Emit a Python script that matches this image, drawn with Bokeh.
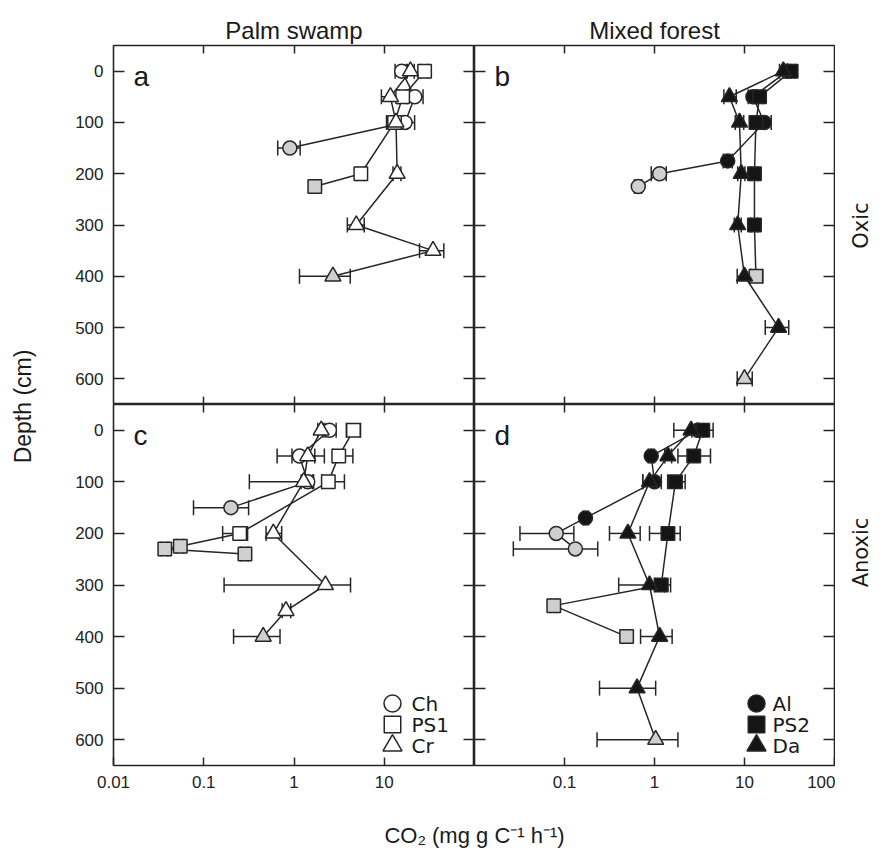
import math

from bokeh.embed import file_html
from bokeh.layouts import column, row
from bokeh.models import (ColumnDataSource, FixedTicker, Label, LinearAxis, LinearScale,
                          LogAxis, PrintfTickFormatter, Range1d, TeeHead, Whisker)
from bokeh.plotting import figure
from bokeh.resources import INLINE

# ---------------------------------------------------------------------------
# CO2 production (mg g C-1 h-1) by depth (cm); *_lo / *_hi are the error limits,
# *_shaded marks the samples drawn with a grey fill.
# ---------------------------------------------------------------------------

# (a) Palm swamp, oxic
a_ch_depth = [0, 50, 100, 150]
a_ch_co2 = [15.6, 21.8, 17.0, 0.9]
a_ch_lo = [13.2, 18.0, 14.0, 0.66]
a_ch_hi = [18.0, 26.9, 21.7, 1.17]
a_ch_shaded = [0, 0, 0, 1]

a_ps1_depth = [0, 50, 100, 200, 225]
a_ps1_co2 = [28.0, 16.0, 13.0, 5.5, 1.7]
a_ps1_lo = [25.5, 14.5, 11.8, 5.0, 1.55]
a_ps1_hi = [30.5, 17.5, 14.2, 6.0, 1.85]
a_ps1_shaded = [0, 0, 0, 0, 1]

a_cr_depth = [0, 50, 100, 200, 300, 350, 400]
a_cr_co2 = [19.5, 11.7, 13.5, 13.9, 4.9, 34.7, 2.7]
a_cr_lo = [17.5, 9.3, 10.6, 12.5, 3.9, 24.6, 1.15]
a_cr_hi = [21.5, 14.0, 16.0, 15.3, 6.0, 45.7, 4.2]
a_cr_shaded = [0, 0, 0, 0, 0, 0, 1]

# (b) Mixed forest, oxic
b_al_depth = [0, 50, 100, 175, 200, 225]
b_al_co2 = [30.0, 12.4, 16.6, 6.5, 1.14, 0.66]
b_al_lo = [27.0, 11.0, 14.5, 5.8, 0.92, 0.60]
b_al_hi = [33.0, 14.0, 19.8, 7.3, 1.35, 0.72]
b_al_shaded = [0, 0, 0, 0, 1, 1]

b_ps2_depth = [0, 50, 100, 200, 300, 400]
b_ps2_co2 = [33.0, 14.7, 13.4, 12.9, 12.9, 13.4]
b_ps2_lo = [30.0, 13.5, 12.0, 11.8, 11.8, 11.5]
b_ps2_hi = [36.0, 16.0, 15.0, 14.0, 14.0, 15.9]
b_ps2_shaded = [0, 0, 0, 0, 0, 1]

b_da_depth = [0, 50, 100, 200, 300, 400, 500, 600]
b_da_co2 = [27.0, 6.8, 8.8, 9.2, 8.4, 10.0, 23.9, 10.0]
b_da_lo = [24.5, 5.9, 7.9, 8.4, 7.7, 8.3, 17.0, 8.3]
b_da_hi = [30.0, 8.1, 9.8, 10.1, 9.2, 11.8, 31.0, 12.2]
b_da_shaded = [0, 0, 0, 0, 0, 0, 0, 1]

# (c) Palm swamp, anoxic
c_ch_depth = [0, 50, 100, 150]
c_ch_co2 = [2.47, 1.15, 1.42, 0.20]
c_ch_lo = [2.10, 0.65, 1.20, 0.077]
c_ch_hi = [2.93, 2.17, 1.65, 0.314]
c_ch_shaded = [0, 0, 0, 1]

c_ps1_depth = [0, 50, 100, 200, 225, 230, 240]
c_ps1_co2 = [4.56, 3.13, 2.40, 0.25, 0.055, 0.037, 0.286]
c_ps1_lo = [3.80, 2.69, 2.03, 0.162, 0.050, 0.034, 0.26]
c_ps1_hi = [5.46, 4.49, 3.62, 0.306, 0.060, 0.040, 0.31]
c_ps1_shaded = [0, 0, 0, 0, 1, 1, 1]

c_cr_depth = [0, 50, 100, 200, 300, 350, 400]
c_cr_co2 = [2.00, 1.42, 1.28, 0.59, 2.23, 0.815, 0.456]
c_cr_lo = [1.83, 0.95, 0.32, 0.49, 0.168, 0.74, 0.214]
c_cr_hi = [2.20, 1.70, 1.60, 0.73, 4.23, 0.92, 0.70]
c_cr_shaded = [0, 0, 0, 0, 0, 0, 1]

# (d) Mixed forest, anoxic
d_al_depth = [0, 50, 100, 170, 200, 230]
d_al_co2 = [3.03, 0.92, 1.00, 0.171, 0.081, 0.132]
d_al_lo = [2.60, 0.85, 0.74, 0.160, 0.032, 0.027]
d_al_hi = [3.50, 1.00, 1.19, 0.185, 0.127, 0.234]
d_al_shaded = [0, 0, 0, 0, 1, 1]

d_ps2_depth = [0, 50, 100, 200, 300, 340, 400]
d_ps2_co2 = [3.44, 2.73, 1.71, 1.41, 1.19, 0.076, 0.49]
d_ps2_lo = [3.00, 1.82, 1.40, 0.88, 1.00, 0.070, 0.45]
d_ps2_hi = [4.48, 4.19, 2.19, 1.93, 1.51, 0.082, 0.53]
d_ps2_shaded = [0, 0, 0, 0, 0, 1, 1]

d_da_depth = [0, 50, 100, 200, 300, 400, 500, 600]
d_da_co2 = [2.55, 1.41, 0.88, 0.506, 0.88, 1.14, 0.64, 1.03]
d_da_lo = [1.64, 1.30, 0.74, 0.316, 0.40, 0.70, 0.245, 0.23]
d_da_hi = [3.00, 1.55, 1.00, 0.693, 1.30, 1.57, 1.03, 1.82]
d_da_shaded = [0, 0, 0, 0, 0, 0, 0, 1]

x_tick_values = [0.01, 0.1, 1, 10, 100]
depth_tick_values = [0, 100, 200, 300, 400, 500, 600]
site_titles = ["Palm swamp", "Mixed forest"]
condition_titles = ["Oxic", "Anoxic"]
panel_letters = ["a", "b", "c", "d"]
ps_labels = ["Ch", "PS1", "Cr"]
mf_labels = ["Al", "PS2", "Da"]

# ---------------------------------------------------------------------------
# styling and layout
# ---------------------------------------------------------------------------
INK = "#262626"
OPEN = "#ffffff"
SHADE = "#cfcfcf"
SOLID = "#151515"
ARIAL = "Liberation Sans"
VERD = "DejaVu Sans"

STRIP_W = 45      # left strip (depth title)
RSTRIP_W = 49     # right strip (row titles)
TSTRIP_H = 44     # top strip (column titles)
BORDER_L, BORDER_B = 68, 36
FRAME_W = [361, 360]
FRAME_H = [359, 361]
TOTAL_H = 861
MARKER_SIZE = {"circle": 14, "square": 13.5, "triangle": 16}


def make_panel(col, rw):
    fw, fh = FRAME_W[col], FRAME_H[rw]
    bl = BORDER_L if col == 0 else 0
    br = 1 if col == 1 else 0
    bt = 1 if rw == 0 else 0
    bb = BORDER_B if rw == 1 else 0
    p = figure(width=fw + bl + br, height=fh + bt + bb,
               x_axis_type="log", x_range=Range1d(0.01, 100), y_range=Range1d(650, -50),
               output_backend="svg", toolbar_location=None,
               min_border_left=bl, min_border_right=br,
               min_border_top=bt, min_border_bottom=bb,
               outline_line_color=INK, outline_line_width=1.6,
               background_fill_color="white", border_fill_color="white")
    p.grid.visible = False

    bottom_axis = p.below[0]
    left_axis = p.left[0]
    top_axis = LogAxis()
    right_axis = LinearAxis()
    p.add_layout(top_axis, "above")
    p.add_layout(right_axis, "right")

    x_label_ticks = x_tick_values[:-1] if col == 0 else x_tick_values[1:]
    bottom_axis.ticker = FixedTicker(ticks=x_label_ticks if rw == 1 else x_tick_values[1:-1])
    top_axis.ticker = FixedTicker(ticks=x_tick_values[1:-1])
    for ax in (bottom_axis, top_axis):
        ax.formatter = PrintfTickFormatter(format="%g")
    left_axis.ticker = FixedTicker(ticks=depth_tick_values)
    right_axis.ticker = FixedTicker(ticks=depth_tick_values)

    for ax in (bottom_axis, top_axis, left_axis, right_axis):
        ax.axis_line_color = None
        ax.major_tick_out = 0
        ax.minor_tick_line_color = None
        ax.major_tick_line_color = INK
        ax.major_tick_line_width = 1.5
        ax.major_label_text_font = ARIAL
        # inner sides carry ticks only
        ax.major_label_text_color = None
        ax.major_label_text_font_size = "0px"
        ax.major_label_standoff = 0
    for ax in (bottom_axis, top_axis):
        ax.major_tick_in = 8
    for ax in (left_axis, right_axis):
        ax.major_tick_in = 11

    if col == 0:
        left_axis.major_label_text_font_size = "17px"
        left_axis.major_label_text_color = "#222222"
        left_axis.major_label_standoff = 10
    if rw == 1:
        bottom_axis.major_label_text_font_size = "17px"
        bottom_axis.major_label_text_color = "#222222"
        bottom_axis.major_label_standoff = 10

    # panel letter
    p.add_layout(Label(x=20, y=fh - 31, x_units="screen", y_units="screen",
                       text=panel_letters[rw * 2 + col], text_font=ARIAL,
                       text_font_size="28px", text_color="#1a1a1a",
                       text_baseline="middle", text_align="left"))
    return p


def draw_series(p, series):
    # error bars underneath, then connecting lines, then symbols on top
    for depth, co2, lo, hi, shaded, marker, fill in series:
        src = ColumnDataSource(dict(depth=depth, lo=lo, hi=hi))
        p.add_layout(Whisker(source=src, base="depth", lower="lo", upper="hi",
                             dimension="width", line_color=INK, line_width=1.5,
                             level="underlay",
                             lower_head=TeeHead(size=15, line_color=INK, line_width=1.5),
                             upper_head=TeeHead(size=15, line_color=INK, line_width=1.5)))
    for depth, co2, lo, hi, shaded, marker, fill in series:
        p.line(co2, depth, line_color=INK, line_width=1.5)
    for depth, co2, lo, hi, shaded, marker, fill in series:
        fills = [SHADE if s else fill for s in shaded]
        p.scatter(co2, depth, marker=marker, size=MARKER_SIZE[marker],
                  fill_color=fills, line_color=INK, line_width=1.5)


def draw_key(p, labels, fill, fw, fh, marker_x):
    # key placed in the pixel space of the frame
    p.extra_x_ranges = {"px": Range1d(0, fw)}
    p.extra_y_ranges = {"px": Range1d(0, fh)}
    p.extra_x_scales = {"px": LinearScale()}
    p.extra_y_scales = {"px": LinearScale()}
    rows_y = [62, 41, 20]
    for marker, lab, yy in zip(["circle", "square", "triangle"], labels, rows_y):
        size = {"circle": 17, "square": 16.5, "triangle": 19}[marker]
        p.scatter([marker_x], [yy], marker=marker, size=size, fill_color=fill,
                  line_color=INK, line_width=1.5, x_range_name="px", y_range_name="px")
        p.add_layout(Label(x=298, y=yy, x_units="screen", y_units="screen", text=lab,
                           text_font=VERD, text_font_size="20px", text_color="#1a1a1a",
                           text_baseline="middle", text_align="left"))


pa = make_panel(0, 0)
pb = make_panel(1, 0)
pc = make_panel(0, 1)
pd_ = make_panel(1, 1)

draw_series(pa, [
    (a_ch_depth, a_ch_co2, a_ch_lo, a_ch_hi, a_ch_shaded, "circle", OPEN),
    (a_ps1_depth, a_ps1_co2, a_ps1_lo, a_ps1_hi, a_ps1_shaded, "square", OPEN),
    (a_cr_depth, a_cr_co2, a_cr_lo, a_cr_hi, a_cr_shaded, "triangle", OPEN),
])
draw_series(pb, [
    (b_al_depth, b_al_co2, b_al_lo, b_al_hi, b_al_shaded, "circle", SOLID),
    (b_ps2_depth, b_ps2_co2, b_ps2_lo, b_ps2_hi, b_ps2_shaded, "square", SOLID),
    (b_da_depth, b_da_co2, b_da_lo, b_da_hi, b_da_shaded, "triangle", SOLID),
])
draw_series(pc, [
    (c_ch_depth, c_ch_co2, c_ch_lo, c_ch_hi, c_ch_shaded, "circle", OPEN),
    (c_ps1_depth, c_ps1_co2, c_ps1_lo, c_ps1_hi, c_ps1_shaded, "square", OPEN),
    (c_cr_depth, c_cr_co2, c_cr_lo, c_cr_hi, c_cr_shaded, "triangle", OPEN),
])
draw_series(pd_, [
    (d_al_depth, d_al_co2, d_al_lo, d_al_hi, d_al_shaded, "circle", SOLID),
    (d_ps2_depth, d_ps2_co2, d_ps2_lo, d_ps2_hi, d_ps2_shaded, "square", SOLID),
    (d_da_depth, d_da_co2, d_da_lo, d_da_hi, d_da_shaded, "triangle", SOLID),
])

draw_key(pc, ps_labels, OPEN, FRAME_W[0], FRAME_H[1], 279)
draw_key(pd_, mf_labels, SOLID, FRAME_W[1], FRAME_H[1], 282)


def blank_strip(w, h):
    s = figure(width=w, height=h, x_range=Range1d(0, 1), y_range=Range1d(0, 1),
               output_backend="svg", toolbar_location=None, min_border=0,
               outline_line_color=None, x_axis_type=None, y_axis_type=None,
               background_fill_color="white", border_fill_color="white")
    s.grid.visible = False
    return s


top_h = FRAME_H[0] + 1
bot_h = FRAME_H[1] + BORDER_B
strip_h = TOTAL_H - TSTRIP_H - top_h - bot_h
mid_w = FRAME_W[0] + FRAME_W[1] + BORDER_L + 1

left_strip = blank_strip(STRIP_W, TOTAL_H)
left_strip.add_layout(Label(x=22, y=TOTAL_H - 406, x_units="screen", y_units="screen",
                            text="Depth (cm)", text_font=ARIAL, text_font_size="23px",
                            text_color="#1a1a1a", angle=math.pi / 2,
                            text_align="center", text_baseline="middle"))

# column titles above the panels
top_strip = blank_strip(mid_w, TSTRIP_H)
centres = [BORDER_L + FRAME_W[0] / 2, BORDER_L + FRAME_W[0] + FRAME_W[1] / 2]
for txt, cx in zip(site_titles, centres):
    top_strip.add_layout(Label(x=cx, y=TSTRIP_H - 30, x_units="screen", y_units="screen",
                               text=txt, text_font=ARIAL, text_font_size="24px",
                               text_color="#1a1a1a", text_align="center",
                               text_baseline="alphabetic"))

# row titles on the right-hand side
right_strip = blank_strip(RSTRIP_W, TOTAL_H)
for txt, page_y in zip(condition_titles, [225, 552]):
    right_strip.add_layout(Label(x=25, y=TOTAL_H - page_y, x_units="screen", y_units="screen",
                                 text=txt, text_font=VERD, text_font_size="21px",
                                 text_color="#1a1a1a", angle=math.pi / 2,
                                 text_align="center", text_baseline="middle"))

bottom_strip = blank_strip(mid_w, strip_h)
bottom_strip.add_layout(Label(x=BORDER_L + FRAME_W[0], y=strip_h - 34, x_units="screen",
                              y_units="screen", text="CO\u2082 (mg g C\u207b\u00b9 h\u207b\u00b9)",
                              text_font=ARIAL, text_font_size="22px", text_color="#1a1a1a",
                              text_align="center", text_baseline="middle"))

layout = row(left_strip,
             column(top_strip, row(pa, pb), row(pc, pd_), bottom_strip),
             right_strip)

open("out.html", "w").write(file_html(layout, INLINE))
